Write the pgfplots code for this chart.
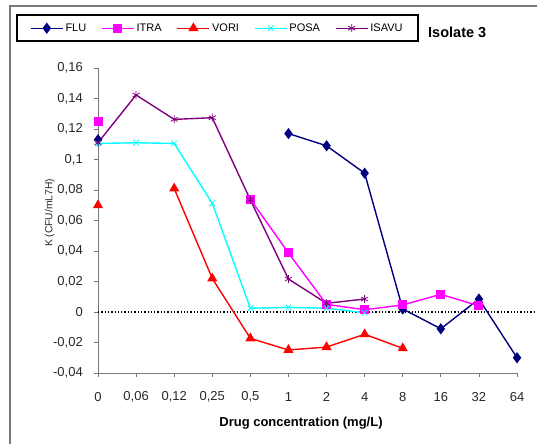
\documentclass[border=0pt]{standalone}
\usepackage{pgfplots}
\pgfplotsset{compat=1.18}
\usepackage{fontspec}
\setmainfont{Liberation Sans}
\definecolor{flu}{RGB}{0,0,128}
\definecolor{itra}{RGB}{255,0,255}
\definecolor{vori}{RGB}{255,0,0}
\definecolor{posa}{RGB}{0,255,255}
\definecolor{isavu}{RGB}{128,0,128}
\definecolor{axgray}{RGB}{120,120,120}
\definecolor{txt}{RGB}{40,40,40}
\begin{document}
\begin{tikzpicture}[x=1pt,y=1pt]
\path[use as bounding box] (0,0) rectangle (537,444);
\draw[axgray,line width=1.2pt] (10,0) -- (10,438) -- (537,438);
\begin{axis}[
  at={(98pt,71pt)}, anchor=south west,
  scale only axis, width=419pt, height=305pt,
  xmin=0, xmax=11, ymin=-0.04, ymax=0.16,
  axis x line*=bottom, axis y line*=left,
  axis line style={axgray, line width=0.9pt},
  tick align=outside, major tick length=4pt,
  tick style={axgray, line width=0.8pt},
  xtick={0,1,...,11},
  xticklabels={0,{0,06},{0,12},{0,25},{0,5},1,2,4,8,16,32,64},
  ytick={-0.04,-0.02,0,0.02,0.04,0.06,0.08,0.1,0.12,0.14,0.16},
  yticklabels={{-0,04},{-0,02},0,{0,02},{0,04},{0,06},{0,08},{0,1},{0,12},{0,14},{0,16}},
  ticklabel style={font=\fontsize{13}{14}\selectfont, text=txt},
  xticklabel style={anchor=center, yshift=-20pt},
  yticklabel style={anchor=east, xshift=-11pt, inner sep=0pt},
  xlabel={\bfseries Drug concentration (mg/L)},
  xlabel style={font=\fontsize{13}{14}\selectfont, at={(axis description cs:0.4845,-0.165)}, anchor=center},
  ylabel={K (CFU/mL7H)},
  ylabel style={font=\fontsize{10.3}{11}\selectfont, text=txt, at={(axis description cs:-0.115,0.525)}, anchor=center},
  clip=false,
  unbounded coords=jump,
  every axis plot/.append style={line width=1.4pt,
    legend image code/.code={\draw[mark repeat=2,mark phase=2,##1] plot coordinates {(0pt,0pt)(16pt,0pt)(32pt,0pt)};}},
  legend columns=5,
  legend style={at={(axis description cs:-0.1957,1.177)}, anchor=north west,
    draw=black, line width=2.2pt, font=\fontsize{11}{12}\selectfont,
    inner xsep=13pt, inner ysep=6.5pt,
    /tikz/every even column/.append style={column sep=13pt}},
  legend cell align=left,
]
\draw[black, dotted, line width=1.3pt] (axis cs:0,0) -- (axis cs:11.52,0);
\addplot[flu, mark=diamond*, mark size=4.5pt, mark options={solid}] coordinates {
 (0,0.113) (1,nan) (5,0.117) (6,0.109) (7,0.091) (8,0.002) (9,-0.011) (10,0.0085) (11,-0.030)};
\addlegendentry{FLU}
\addplot[itra, mark=square*, mark size=3.8pt] coordinates {
 (0,0.125) (1,nan) (4,0.074) (5,0.0387) (6,0.005) (7,0.0015) (8,0.0046) (9,0.0116) (10,0.004)};
\addlegendentry{ITRA}
\addplot[vori, mark=triangle*, mark size=4.5pt] coordinates {
 (0,0.070) (1,nan) (2,0.081) (3,0.022) (4,-0.0173) (5,-0.0249) (6,-0.023) (7,-0.0146) (8,-0.0238)};
\addlegendentry{VORI}
\addplot[posa, mark=x, mark size=4pt, mark options={line width=0.8pt}] coordinates {
 (0,0.1105) (1,0.111) (2,0.1105) (3,0.0713) (4,0.0025) (5,0.003) (6,0.0025) (7,-0.0005)};
\addlegendentry{POSA}
\addplot[isavu, mark=asterisk, mark size=4pt, mark options={line width=0.8pt}] coordinates {
 (0,0.111) (1,0.1423) (2,0.1263) (3,0.1274) (4,0.0735) (5,0.0216) (6,0.0057) (7,0.0085)};
\addlegendentry{ISAVU}
\end{axis}
\node[anchor=west, font=\fontsize{14.5}{16}\selectfont\bfseries, inner sep=0pt] at (428,412) {Isolate 3};
\end{tikzpicture}
\end{document}
